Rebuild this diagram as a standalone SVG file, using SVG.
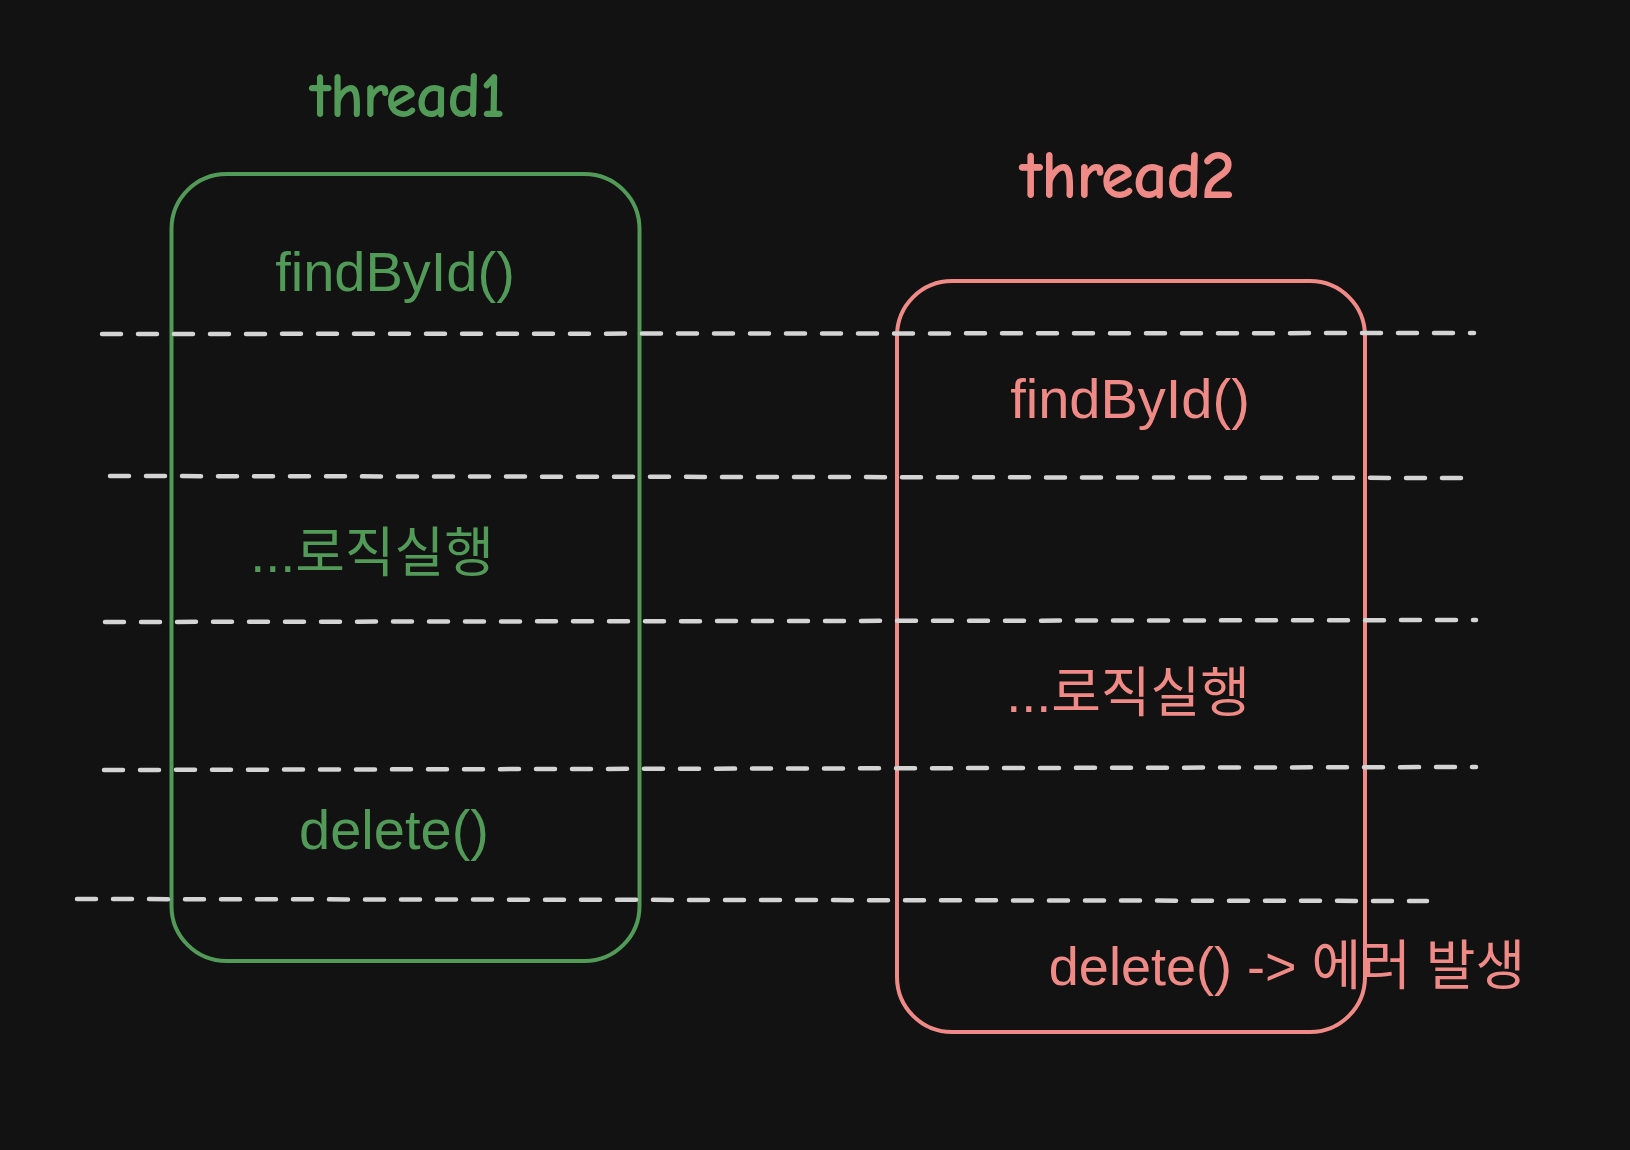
<svg xmlns="http://www.w3.org/2000/svg" width="1630" height="1150" viewBox="0 0 1630 1150">
<style>
.bg{fill:#121212}
.dash{stroke:#d4d4d4;stroke-width:4.5;stroke-dasharray:19 17;stroke-linecap:round;fill:none}
.g{fill:#529a57}
.r{fill:#f08a86}
.gs{stroke:#529a57;stroke-width:4;fill:none}
.rs{stroke:#f08a86;stroke-width:4;fill:none}
.t{font-family:"Liberation Sans","Noto Sans CJK KR",sans-serif;font-size:56px;text-anchor:middle}
.k{font-size:54px}
.h{font-family:"Comic Neue","DejaVu Sans",sans-serif;font-size:64px;font-weight:bold;text-anchor:middle}
</style>
<rect class="bg" x="0" y="0" width="1630" height="1150"/>
<g id="thread1">
<rect class="gs" x="171.5" y="174" width="468" height="787" rx="55"/>
<text class="h g" x="407" y="117" letter-spacing="-1">thread1</text>
<text class="t g" x="395" y="291">findById()</text>
<text class="t k g" x="372" y="572">...로직실행</text>
<text class="t g" x="394" y="849">delete()</text>
</g>
<g id="thread2">
<rect class="rs" x="897" y="281" width="468" height="751" rx="55"/>
<text class="h r" x="1127" y="198" style="font-size:68px" letter-spacing="-1">thread2</text>
<text class="t r" x="1130" y="418">findById()</text>
<text class="t k r" x="1128" y="712">...로직실행</text>
<text class="t r" x="1287" y="985" style="font-size:54px">delete() -&gt; 에러 발생</text>
</g>
<g id="connectors">
<line class="dash" x1="102" y1="334" x2="1474" y2="333"/>
<line class="dash" x1="110" y1="476" x2="1464" y2="478"/>
<line class="dash" x1="105" y1="622" x2="1476" y2="620"/>
<line class="dash" x1="104" y1="770" x2="1476" y2="767"/>
<line class="dash" x1="77" y1="899" x2="1427" y2="901"/>
</g>
</svg>
